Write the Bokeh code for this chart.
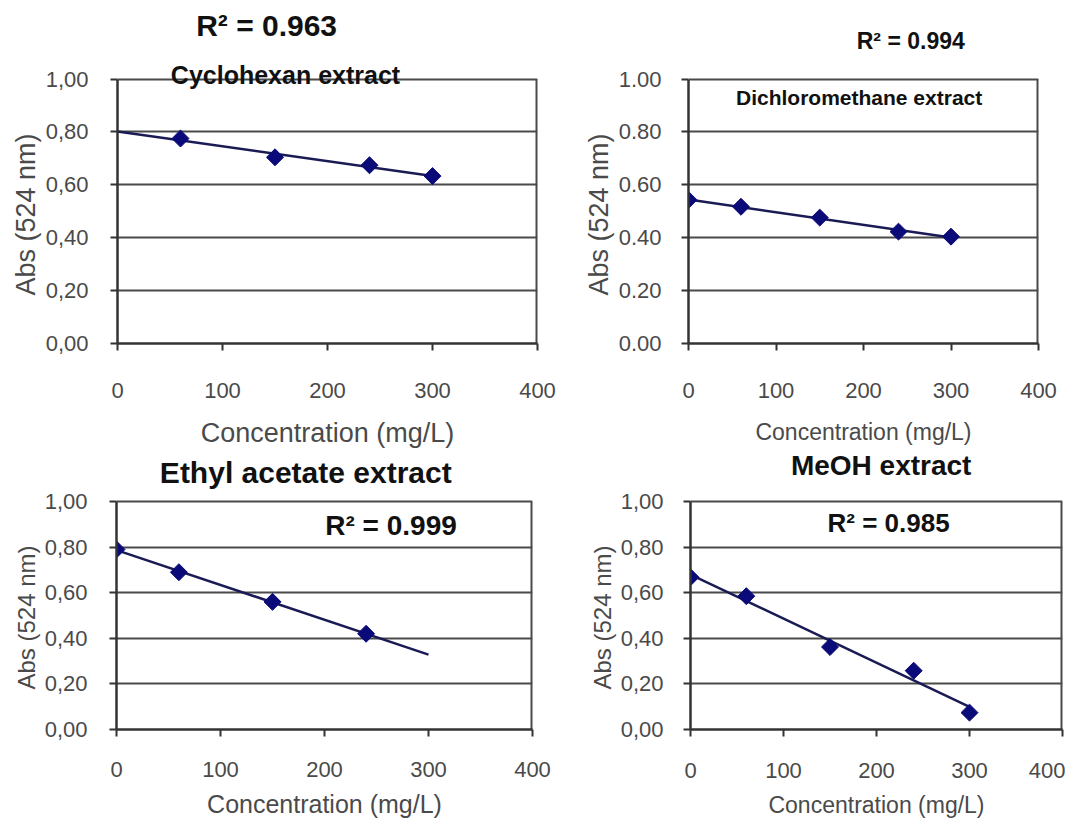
import numpy as np
from bokeh.plotting import figure
from bokeh.models import Range1d, Label, Title, CustomJSTickFormatter, FixedTicker
from bokeh.layouts import column, row
from bokeh.embed import file_html
from bokeh.resources import INLINE

# ---- data ----
conc_cyclo = [60, 150, 240, 300]
abs_cyclo = [0.775, 0.704, 0.674, 0.633]
conc_dcm = [0, 60, 150, 240, 300]
abs_dcm = [0.543, 0.517, 0.476, 0.423, 0.404]
conc_etac = [0, 60, 150, 240]
abs_etac = [0.790, 0.690, 0.560, 0.420]
conc_meoh = [0, 60, 150, 240, 300]
abs_meoh = [0.668, 0.585, 0.362, 0.258, 0.074]

x_ticks = [0, 100, 200, 300, 400]
y_ticks = [0.0, 0.2, 0.4, 0.6, 0.8, 1.0]
trend_span = [0, 300]

panel_names = ["Cyclohexan extract", "Dichloromethane extract",
               "Ethyl acetate extract", "MeOH extract"]
r2_texts = ["R\u00b2 = 0.963", "R\u00b2 = 0.994", "R\u00b2 = 0.999", "R\u00b2 = 0.985"]
x_title = "Concentration (mg/L)"
y_title = "Abs (524 nm)"

FONT = "Liberation Sans"
TICK_COLOR = "#4a4a4a"
MARK_COLOR = "#0a0a78"
LINE_COLOR = "#1a1a55"
GRID_COLOR = "#4a4a4a"


def make_panel(xs, ys, w, h, bl, br, bb, ytop, sep, xlab_so, xtitle_so,
               xtitle_size, ytitle_size, ytitle_offset, decimal=","):
    p = figure(width=w, height=h, output_backend="svg", toolbar_location=None,
               x_range=Range1d(x_ticks[0], x_ticks[-1]),
               y_range=Range1d(y_ticks[0], ytop),
               min_border_left=bl, min_border_right=br,
               min_border_top=0, min_border_bottom=bb)
    p.background_fill_color = "white"
    p.border_fill_color = "white"
    p.outline_line_color = None

    p.xaxis.ticker = FixedTicker(ticks=x_ticks)
    p.yaxis.ticker = FixedTicker(ticks=y_ticks)
    p.yaxis.bounds = (y_ticks[0], y_ticks[-1])
    p.yaxis.formatter = CustomJSTickFormatter(
        code="return tick.toFixed(2).replace('.', '%s')" % decimal)
    p.xgrid.grid_line_color = None
    p.ygrid.grid_line_color = GRID_COLOR
    p.ygrid.grid_line_width = 2
    p.ygrid.grid_line_alpha = 1.0

    for ax in (p.xaxis[0], p.yaxis[0]):
        ax.axis_line_color = "#333333"
        ax.axis_line_width = 2.5
        ax.major_tick_line_color = "#333333"
        ax.major_tick_line_width = 2
        ax.major_tick_out = 7
        ax.major_tick_in = 0
        ax.minor_tick_line_color = None
        ax.major_label_text_font = FONT
        ax.major_label_text_font_size = "22px"
        ax.major_label_text_color = TICK_COLOR
        ax.major_label_text_line_height = 0.9
        ax.axis_label_text_font = FONT
        ax.axis_label_text_font_style = "normal"
        ax.axis_label_text_color = TICK_COLOR
        ax.axis_label_text_line_height = 0.9
    p.xaxis.axis_label = x_title
    p.xaxis.axis_label_text_font_size = xtitle_size
    p.xaxis.major_label_standoff = xlab_so
    p.xaxis.axis_label_standoff = xtitle_so
    p.yaxis.major_label_standoff = sep
    # y-axis title as a side title so that it is centred on the 0..1 part
    p.add_layout(Title(text=y_title, text_font=FONT, text_font_size=ytitle_size,
                       text_font_style="normal", text_color=TICK_COLOR,
                       text_line_height=0.9, align="left",
                       offset=ytitle_offset, standoff=3), "left")

    # right edge of the plot box (clipped to half its width by the frame)
    p.segment(x0=[x_ticks[-1]], y0=[y_ticks[0]], x1=[x_ticks[-1]],
              y1=[y_ticks[-1]], line_color=GRID_COLOR, line_width=4)

    slope, intercept = np.polyfit(xs, ys, 1)
    tx = np.array(trend_span, dtype=float)
    p.line(tx, slope * tx + intercept, line_color=LINE_COLOR, line_width=2.5)
    p.scatter(xs, ys, marker="square", angle=np.pi / 4, size=12,
              fill_color=MARK_COLOR, line_color=MARK_COLOR)
    return p


def add_label(p, text, x, y, size):
    p.add_layout(Label(x=x, y=y, text=text, text_font=FONT,
                       text_font_size=size, text_font_style="bold",
                       text_color="#111111", text_align="center",
                       text_baseline="middle"))


TOP_YMAX = 1.297
BOT_YMAX = 1.224

p1 = make_panel(conc_cyclo, abs_cyclo, 580, 450, 117, 43, 105, TOP_YMAX,
                22, 32, 17, "27px", "27px", 48)
add_label(p1, r2_texts[0], 142, 1.203, "30px")
add_label(p1, panel_names[0], 160, 1.015, "25px")

p2 = make_panel(conc_dcm, abs_dcm, 485, 450, 102, 27, 105, TOP_YMAX,
                20, 32, 18, "23px", "27px", 48, decimal=".")
add_label(p2, r2_texts[1], 254, 1.143, "23px")
add_label(p2, panel_names[1], 195, 0.932, "21px")

p3 = make_panel(conc_etac, abs_etac, 585, 372, 116, 53, 93, BOT_YMAX,
                22, 25, 10, "25px", "24px", 40)
add_label(p3, panel_names[2], 182, 1.127, "30px")
add_label(p3, r2_texts[2], 264, 0.895, "28px")

p4 = make_panel(conc_meoh, abs_meoh, 480, 372, 105, 3, 93, BOT_YMAX,
                20, 26, 11, "23px", "24px", 40)
add_label(p4, panel_names[3], 205, 1.158, "28px")
add_label(p4, r2_texts[3], 213, 0.904, "26px")

layout = column(row(p1, p2, spacing=0), row(p3, p4, spacing=0), spacing=0)
open("out.html", "w").write(file_html(layout, INLINE))
